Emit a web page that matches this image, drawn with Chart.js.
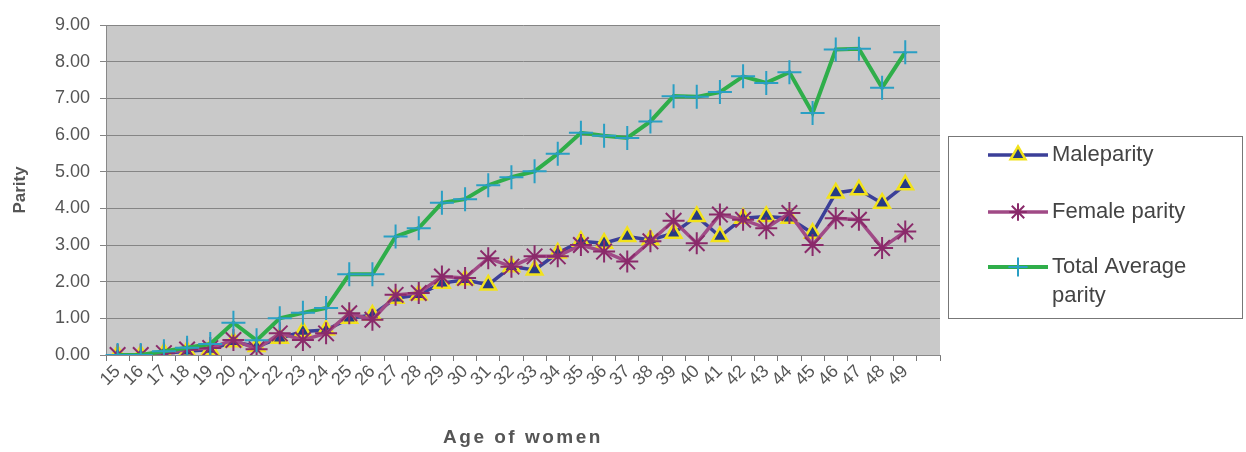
<!DOCTYPE html>
<html>
<head>
<meta charset="utf-8">
<script src="https://cdn.jsdelivr.net/npm/chart.js@4.4.7/dist/chart.umd.min.js"></script>
<style>
*{margin:0;padding:0;box-sizing:border-box}
body{background:#fff;width:1246px;height:452px;overflow:hidden}
</style>
</head>
<body>
<canvas id="parityChart" width="1246" height="452"></canvas>
<script>
// age categories (last one is the empty slot Excel leaves at the end)
const ages = ['15','16','17','18','19','20','21','22','23','24','25','26','27','28','29','30','31','32',
  '33','34','35','36','37','38','39','40','41','42','43','44','45','46','47','48','49',''];
const maleParity = [0,0,0.05,0.1,0.15,0.36,0.23,0.46,0.64,0.68,1.0,1.09,1.55,1.64,1.96,2.05,1.91,2.41,
  2.32,2.78,3.1,3.05,3.23,3.14,3.32,3.78,3.23,3.73,3.78,3.73,3.32,4.42,4.51,4.14,4.64,null];
const femaleParity = [0,0,0.05,0.15,0.19,0.41,0.16,0.59,0.41,0.59,1.14,0.96,1.64,1.69,2.14,2.1,2.64,2.41,
  2.69,2.69,3.0,2.82,2.55,3.1,3.66,3.05,3.83,3.69,3.46,3.87,3.0,3.73,3.69,2.92,3.37,null];
const totalParity = [0,0,0.1,0.2,0.3,0.88,0.4,1.0,1.15,1.28,2.2,2.2,3.23,3.46,4.15,4.25,4.63,4.85,
  5.01,5.49,6.06,5.98,5.92,6.37,7.06,7.04,7.17,7.6,7.42,7.71,6.6,8.33,8.35,7.29,8.26,null];
const yTicks = [0,1,2,3,4,5,6,7,8,9];

const FONT = "'Liberation Sans', Arial, sans-serif";
const TXT = '#555';

// gray plot background
const plotBg = {
  id: 'plotBg',
  beforeDraw(chart) {
    const a = chart.chartArea, ctx = chart.ctx;
    ctx.save();
    ctx.fillStyle = '#c9c9c9';
    ctx.fillRect(a.left, a.top, a.right - a.left, a.bottom - a.top);
    ctx.restore();
  }
};

// boxed legend on the right + spaced x title
const boxLegend = {
  id: 'boxLegend',
  afterDraw(chart) {
    const ctx = chart.ctx;
    ctx.save();
    ctx.strokeStyle = '#777';
    ctx.lineWidth = 1;
    ctx.strokeRect(948.5, 136.5, 294, 182);
    const rows = [
      { ds: 0, y: 155, k: 0.95, text: ['Maleparity'] },
      { ds: 1, y: 212, k: 0.8, text: ['Female parity'] },
      { ds: 2, y: 267, k: 0.8, text: ['Total Average', 'parity'] }
    ];
    rows.forEach(r => {
      const d = chart.data.datasets[r.ds];
      ctx.strokeStyle = d.borderColor;
      ctx.lineWidth = d.borderWidth;
      ctx.beginPath(); ctx.moveTo(988, r.y); ctx.lineTo(1048, r.y); ctx.stroke();
      ctx.fillStyle = d.pointBackgroundColor;
      ctx.strokeStyle = d.pointBorderColor;
      ctx.lineWidth = d.pointBorderWidth;
      Chart.helpers.drawPoint(ctx, { pointStyle: d.pointStyle, radius: d.pointRadius * r.k, rotation: 0, borderWidth: d.pointBorderWidth }, 1018, r.y);
      ctx.fillStyle = '#444';
      ctx.font = '22px ' + FONT;
      ctx.textBaseline = 'middle';
      ctx.textAlign = 'left';
      r.text.forEach((t, i) => ctx.fillText(t, 1052, r.y + i * 29));
    });
    // x axis title with letter spacing
    ctx.fillStyle = TXT;
    ctx.font = 'bold 19px ' + FONT;
    ctx.letterSpacing = '2.5px';
    ctx.textAlign = 'center';
    ctx.textBaseline = 'middle';
    ctx.fillText('Age of women', 523, 438);
    ctx.restore();
  }
};

new Chart(document.getElementById('parityChart'), {
  type: 'line',
  data: {
    labels: ages,
    datasets: [
      {
        label: 'Maleparity', data: maleParity, order: 3,
        borderColor: '#3b3f98', borderWidth: 3.5,
        pointStyle: 'triangle', pointRadius: 9, pointBorderWidth: 2.5,
        pointBackgroundColor: '#263a85', pointBorderColor: '#f2e21a',
        tension: 0
      },
      {
        label: 'Female parity', data: femaleParity, order: 2,
        borderColor: '#a04a86', borderWidth: 3.5,
        pointStyle: 'star', pointRadius: 11, pointBorderWidth: 2,
        pointBackgroundColor: '#8a2a6a', pointBorderColor: '#8a2a6a',
        tension: 0
      },
      {
        label: 'Total Average parity', data: totalParity, order: 1,
        borderColor: '#2fae4a', borderWidth: 4,
        pointStyle: 'cross', pointRadius: 12, pointBorderWidth: 2,
        pointBackgroundColor: '#2a9fc4', pointBorderColor: '#2a9fc4',
        tension: 0
      }
    ]
  },
  options: {
    responsive: false,
    animation: false,
    devicePixelRatio: 1,
    layout: { padding: { left: 0, right: 306, top: 25, bottom: 0 } },
    plugins: { legend: { display: false }, tooltip: { enabled: false } },
    scales: {
      x: {
        type: 'category', offset: true,
        afterFit(s) { s.height = 97; },
        grid: { offset: true, drawOnChartArea: false, drawTicks: true, tickLength: 6, color: '#777' },
        border: { display: true, color: '#888', width: 1 },
        ticks: {
          autoSkip: false, minRotation: 45, maxRotation: 45, padding: 0,
          color: TXT, font: { family: FONT, size: 18 }
        }
      },
      y: {
        min: 0, max: 9,
        afterFit(s) { s.width = 106; },
        afterBuildTicks(s) { s.ticks = yTicks.map(v => ({ value: v })); },
        grid: { color: '#858585', lineWidth: 1, drawTicks: true, tickLength: 6 },
        border: { display: true, color: '#888' },
        title: { display: true, text: 'Parity', color: TXT, font: { family: FONT, size: 17, weight: 'bold' }, padding: { top: 10, bottom: 0 } },
        ticks: {
          padding: 10, color: TXT, font: { family: FONT, size: 18 },
          callback: v => Number(v).toFixed(2)
        }
      }
    }
  },
  plugins: [plotBg, boxLegend]
});
</script>
</body>
</html>
